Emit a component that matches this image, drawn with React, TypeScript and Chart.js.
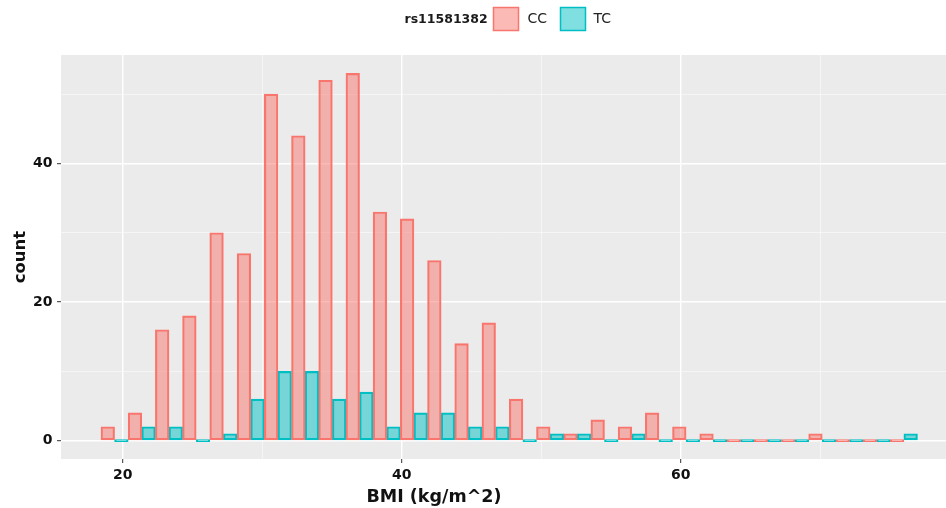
import React, { useEffect, useRef } from "react";
import { Chart, registerables } from "chart.js";

Chart.register(...registerables);

// Histogram bins (30 bins, midpoints in kg/m^2)
const binMids = [
  19.42, 21.37, 23.32, 25.27, 27.22, 29.18, 31.13, 33.08, 35.03, 36.98,
  38.93, 40.88, 42.83, 44.78, 46.73, 48.69, 50.64, 52.59, 54.54, 56.49,
  58.44, 60.39, 62.34, 64.29, 66.24, 68.2, 70.15, 72.1, 74.05, 76.0,
];

// Counts per genotype of rs11581382
const ccCounts = [
  2, 4, 16, 18, 30, 27, 50, 44, 52, 53, 33, 32, 26, 14, 17, 6, 2, 1, 3, 2,
  4, 2, 1, 0, 0, 0, 1, 0, 0, 0,
];
const tcCounts = [
  0, 2, 2, 0, 1, 6, 10, 10, 6, 7, 2, 4, 4, 2, 2, 0, 1, 1, 0, 1,
  0, 0, 0, 0, 0, 0, 0, 0, 0, 1,
];

const xMajor = [20, 40, 60];
const xMinor = [30, 50, 70];
const yMajor = [0, 20, 40];
const yMinor = [10, 30, 50];

const legendTitle = "rs11581382";
const seriesNames = ["CC", "TC"];
const xTitle = "BMI (kg/m^2)";
const yTitle = "count";

const FONT = '"DejaVu Sans", "Liberation Sans", sans-serif';
const CC_LINE = "#F8766D";
const CC_FILL = "rgba(248,118,109,0.5)";
const TC_LINE = "#00BFC4";
const TC_FILL = "rgba(0,191,196,0.5)";
const PANEL = "#EBEBEB";

const toPoints = (counts: number[]) => counts.map((c, i) => ({ x: binMids[i], y: c }));

const decorations = {
  id: "ggDecor",
  beforeDraw(chart: any) {
    const { ctx, chartArea } = chart;
    ctx.save();
    ctx.fillStyle = "#FFFFFF";
    ctx.fillRect(0, 0, chart.width, chart.height);
    ctx.fillStyle = PANEL;
    ctx.fillRect(chartArea.left, chartArea.top, chartArea.right - chartArea.left, chartArea.bottom - chartArea.top);
    ctx.restore();
  },
  afterDraw(chart: any) {
    const { ctx } = chart;
    ctx.save();
    ctx.fillStyle = "#111111";

    // x axis title
    ctx.font = `bold 17.5px ${FONT}`;
    ctx.textAlign = "center";
    ctx.textBaseline = "alphabetic";
    ctx.fillText(xTitle, 434, 501.5);

    // y axis title
    ctx.save();
    ctx.translate(25, 257);
    ctx.rotate(-Math.PI / 2);
    ctx.font = `bold 16.5px ${FONT}`;
    ctx.textAlign = "center";
    ctx.textBaseline = "alphabetic";
    ctx.fillText(yTitle, 0, 0);
    ctx.restore();

    // legend
    ctx.textAlign = "left";
    ctx.textBaseline = "middle";
    ctx.font = `bold 12.5px ${FONT}`;
    ctx.fillStyle = "#1a1a1a";
    ctx.fillText(legendTitle, 404.5, 19.5);

    const keys = [
      { x: 493.5, fill: CC_FILL, line: CC_LINE, label: seriesNames[0], lx: 527.5 },
      { x: 560.5, fill: TC_FILL, line: TC_LINE, label: seriesNames[1], lx: 593.5 },
    ];
    keys.forEach((k) => {
      ctx.fillStyle = "#FFFFFF";
      ctx.fillRect(k.x, 7.5, 25, 23);
      ctx.fillStyle = k.fill;
      ctx.fillRect(k.x, 7.5, 25, 23);
      ctx.strokeStyle = k.line;
      ctx.lineWidth = 1.5;
      ctx.strokeRect(k.x, 7.5, 25, 23);
      ctx.fillStyle = "#222222";
      ctx.font = `14px ${FONT}`;
      ctx.fillText(k.label, k.lx, 19.5);
    });
    ctx.restore();
  },
};

export default function App() {
  const canvasRef = useRef<HTMLCanvasElement | null>(null);

  useEffect(() => {
    document.body.style.margin = "0";
    const canvas = canvasRef.current;
    if (!canvas) return;

    const chart = new Chart(canvas, {
      type: "bar",
      data: {
        datasets: [
          {
            label: seriesNames[0],
            data: toPoints(ccCounts),
            backgroundColor: CC_FILL,
            borderColor: CC_LINE,
            borderWidth: 1.5,
            borderSkipped: false,
            minBarLength: 2,
          },
          {
            label: seriesNames[1],
            data: toPoints(tcCounts),
            backgroundColor: TC_FILL,
            borderColor: TC_LINE,
            borderWidth: 1.5,
            borderSkipped: false,
            minBarLength: 2,
          },
        ] as any,
      },
      options: {
        animation: false,
        responsive: false,
        devicePixelRatio: 1,
        datasets: { bar: { categoryPercentage: 1, barPercentage: 1, grouped: true } },
        layout: { padding: { top: 55, left: 0, right: 0, bottom: 0 } },
        plugins: { legend: { display: false }, tooltip: { enabled: false }, title: { display: false } },
        scales: {
          x: {
            type: "linear",
            min: 15.58,
            max: 79.02,
            offset: false,
            border: { display: false },
            afterFit: (s: any) => {
              s.height = 49;
            },
            afterBuildTicks: (s: any) => {
              s.ticks = [...xMajor, ...xMinor].sort((a, b) => a - b).map((v) => ({ value: v }));
            },
            grid: {
              offset: false,
              color: (c: any) => (xMajor.includes(c.tick?.value) ? "#FFFFFF" : "rgba(255,255,255,0.75)"),
              lineWidth: (c: any) => (xMajor.includes(c.tick?.value) ? 1.4 : 0.7),
              tickColor: (c: any) => (xMajor.includes(c.tick?.value) ? "#333333" : "rgba(0,0,0,0)"),
              tickWidth: 1,
              tickLength: 4,
              drawTicks: true,
            },
            ticks: {
              autoSkip: false,
              maxRotation: 0,
              padding: 4,
              color: "#111111",
              font: { family: FONT, size: 14, weight: "bold" },
              callback: (v: any) => (xMajor.includes(Number(v)) ? String(v) : ""),
            },
          },
          y: {
            type: "linear",
            min: -2.65,
            max: 55.65,
            border: { display: false },
            afterFit: (s: any) => {
              s.width = 61;
            },
            afterBuildTicks: (s: any) => {
              s.ticks = [...yMajor, ...yMinor].sort((a, b) => a - b).map((v) => ({ value: v }));
            },
            grid: {
              color: (c: any) => (yMajor.includes(c.tick?.value) ? "#FFFFFF" : "rgba(255,255,255,0.75)"),
              lineWidth: (c: any) => (yMajor.includes(c.tick?.value) ? 1.4 : 0.7),
              tickColor: (c: any) => (yMajor.includes(c.tick?.value) ? "#333333" : "rgba(0,0,0,0)"),
              tickWidth: 1,
              tickLength: 4,
              drawTicks: true,
            },
            ticks: {
              autoSkip: false,
              padding: 4.5,
              color: "#111111",
              font: { family: FONT, size: 14, weight: "bold" },
              callback: (v: any) => (yMajor.includes(Number(v)) ? String(v) : ""),
            },
          },
        },
      } as any,
      plugins: [decorations],
    });

    return () => chart.destroy();
  }, []);

  return (
    <div style={{ width: 946, height: 508, position: "relative" }}>
      <canvas ref={canvasRef} width={946} height={508} style={{ display: "block" }} />
    </div>
  );
}
